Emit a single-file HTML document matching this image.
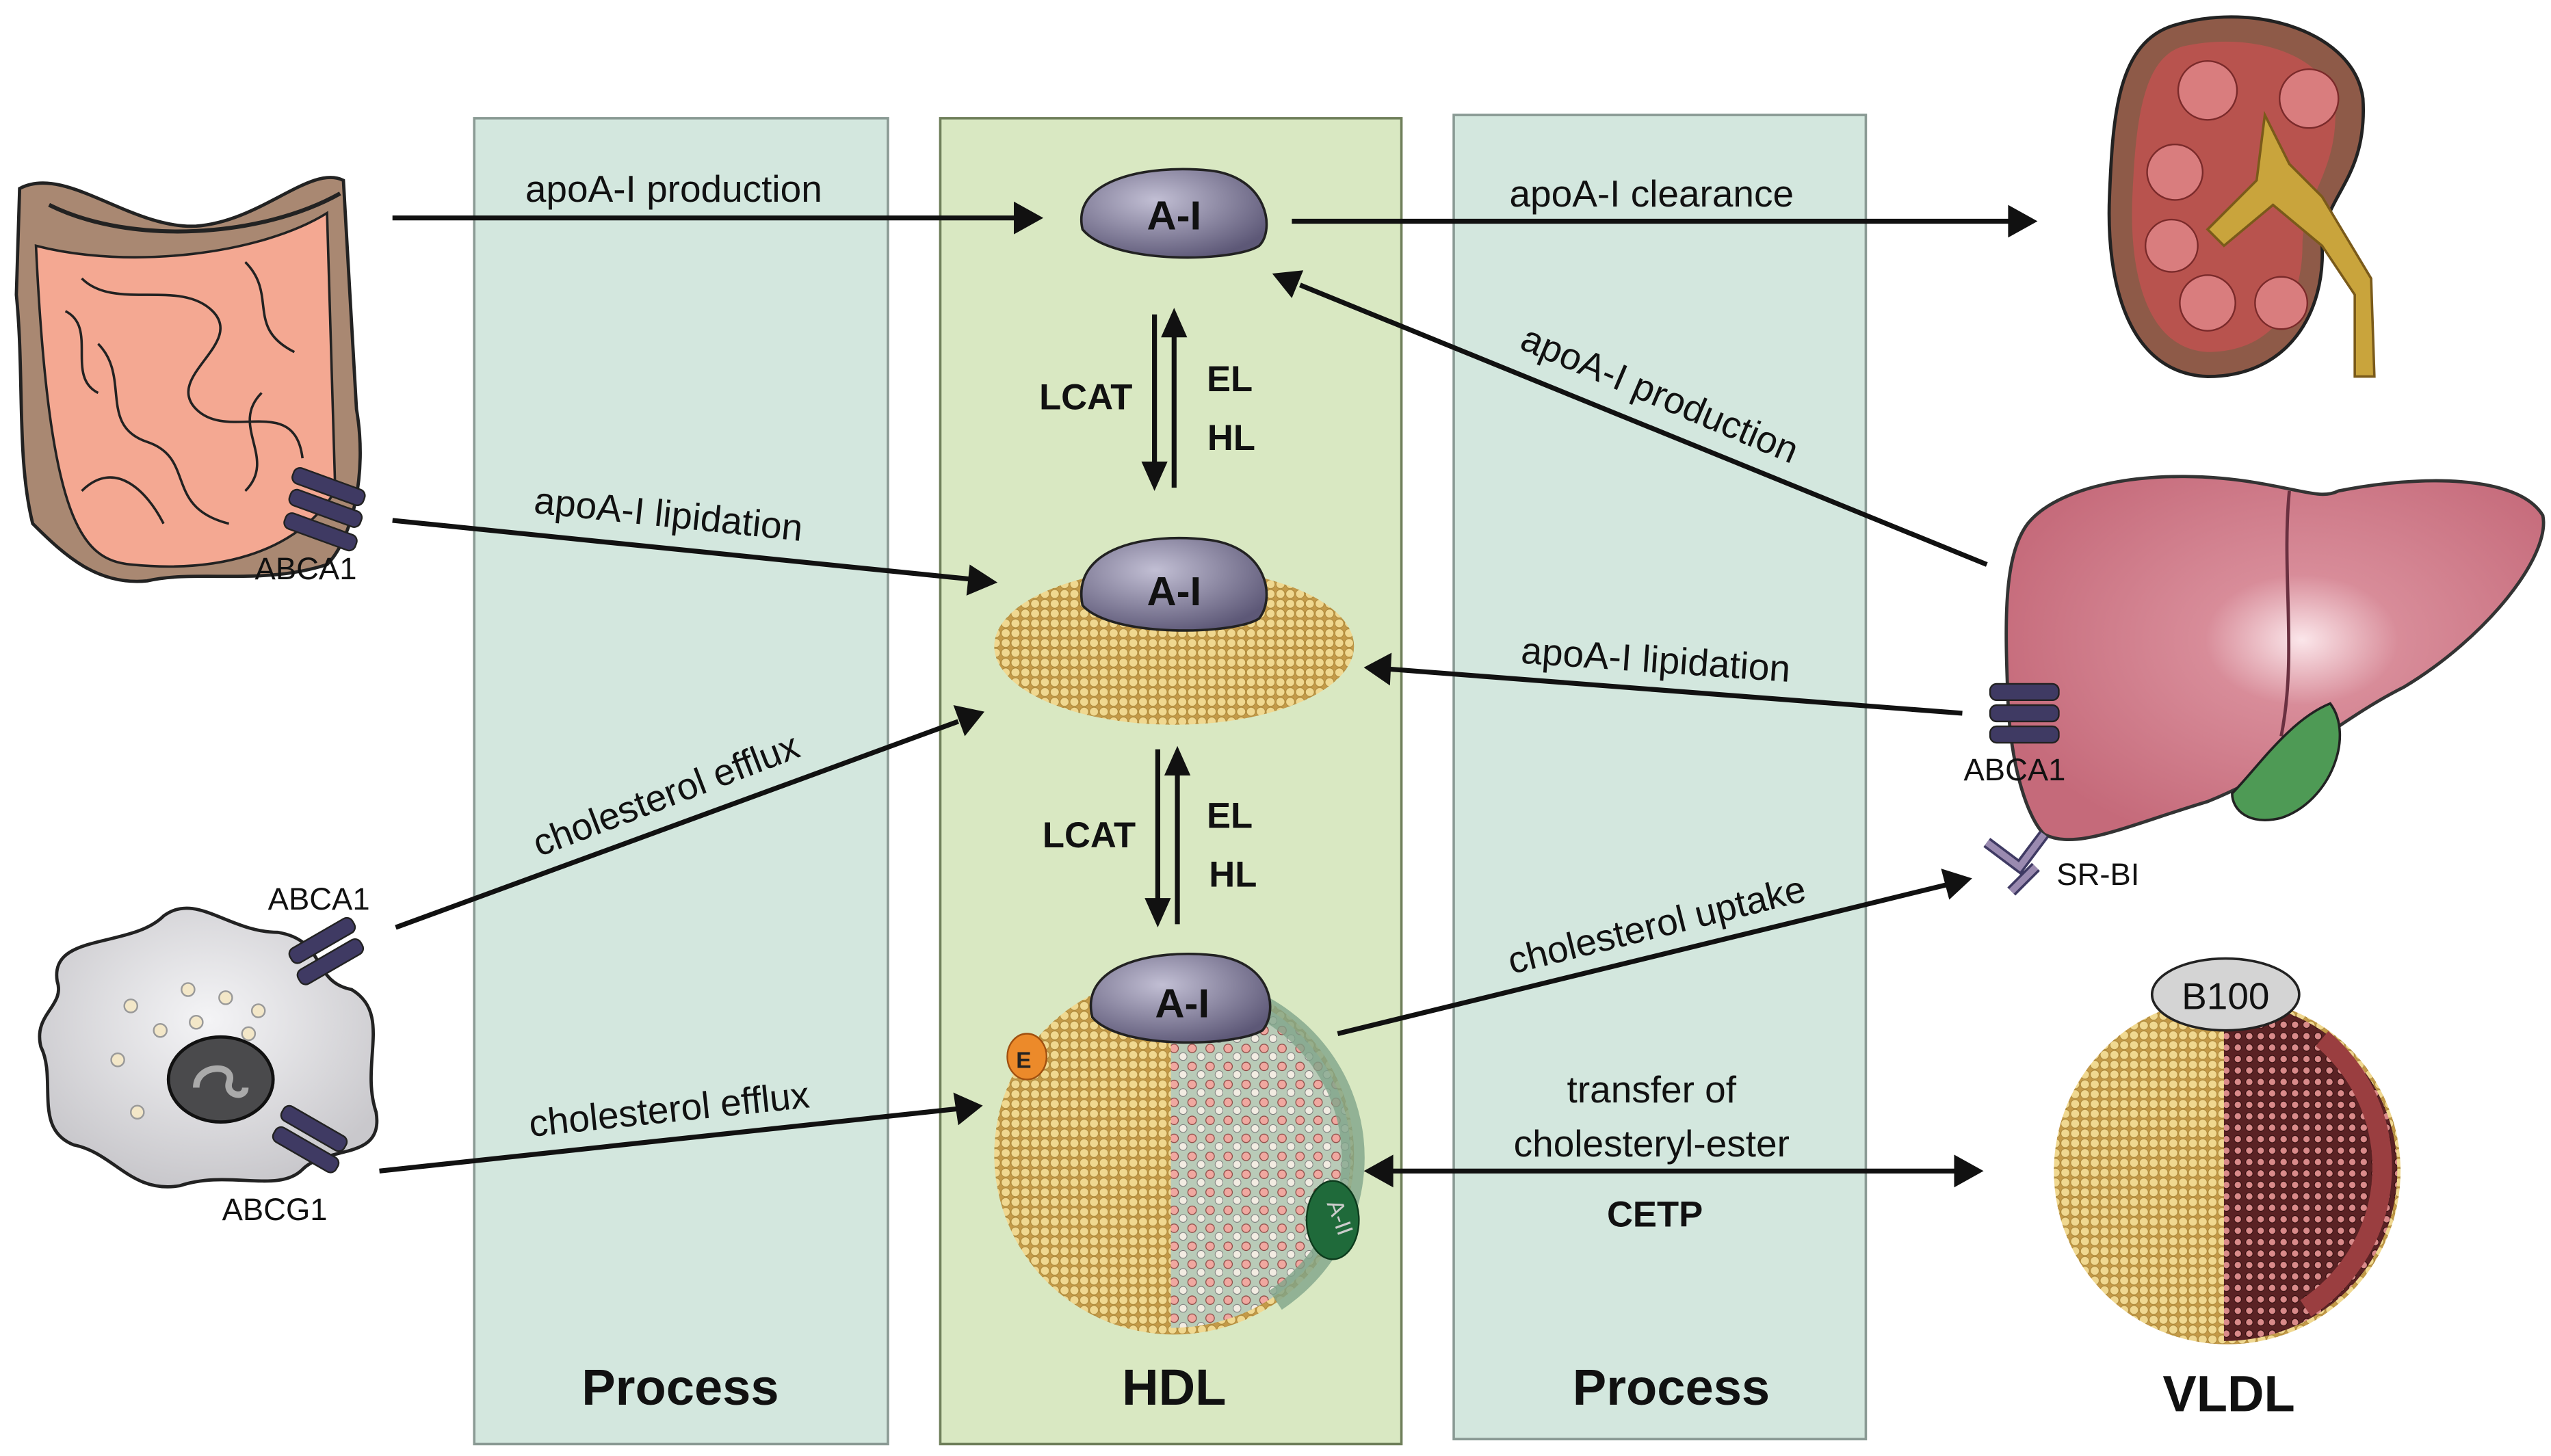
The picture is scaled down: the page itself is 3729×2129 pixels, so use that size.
<!DOCTYPE html>
<html><head><meta charset="utf-8"><style>html,body{margin:0;padding:0;background:#fff}svg{display:block}</style></head>
<body>
<svg width="3729" height="2129" viewBox="0 0 1560 890" xmlns="http://www.w3.org/2000/svg" font-family="Liberation Sans, sans-serif">
<defs>
<pattern id="dots" width="6" height="6" patternUnits="userSpaceOnUse">
<rect width="6" height="6" fill="#c49a48"/>
<circle cx="3" cy="3" r="2.7" fill="#f0d890" stroke="#a88436" stroke-width="0.4"/>
</pattern>
<pattern id="pinkdots" width="11" height="11" patternUnits="userSpaceOnUse">
<rect width="11" height="11" fill="#b9cbb8"/>
<circle cx="3" cy="3" r="2.6" fill="#f0a8a0" stroke="#8a4440" stroke-width="0.5"/>
<circle cx="8.5" cy="8" r="2.4" fill="#f2ece2" stroke="#777" stroke-width="0.4"/>
</pattern>
<pattern id="vdots" width="7" height="7" patternUnits="userSpaceOnUse">
<rect width="7" height="7" fill="#5a2224"/>
<circle cx="3.5" cy="3.5" r="2.2" fill="#d98a8a" stroke="#2a0808" stroke-width="0.4"/>
</pattern>
<radialGradient id="ai" cx="0.4" cy="0.35" r="0.7"><stop offset="0" stop-color="#c2bfd4"/><stop offset="1" stop-color="#5d5877"/></radialGradient>
<radialGradient id="liv" cx="0.55" cy="0.45" r="0.6"><stop offset="0" stop-color="#fbe6ea"/><stop offset="0.3" stop-color="#d88c99"/><stop offset="1" stop-color="#c56a7a"/></radialGradient>
<radialGradient id="mac" cx="0.5" cy="0.4" r="0.6"><stop offset="0" stop-color="#f4f4f6"/><stop offset="1" stop-color="#c9c8cc"/></radialGradient>
</defs>

<rect x="290" y="72" width="253" height="811" fill="#d3e7de" stroke="#8a9a94" stroke-width="1.5"/>
<rect x="575" y="72" width="282" height="811" fill="#d9e8c2" stroke="#6f7f5a" stroke-width="1.5"/>
<rect x="889" y="70" width="252" height="810" fill="#d3e7de" stroke="#8a9a94" stroke-width="1.5"/>

<g font-weight="bold" font-size="31" text-anchor="middle" fill="#111">
<text x="416" y="859">Process</text>
<text x="718" y="859">HDL</text>
<text x="1022" y="859">Process</text>
<text x="1363" y="863">VLDL</text>
</g>

<g stroke="#111" stroke-width="3" fill="#111">
<line x1="240" y1="133" x2="622" y2="133"/><path d="M638,133 L620,123 L620,143Z" stroke="none"/>
<line x1="790" y1="135" x2="1230" y2="135"/><path d="M1246,135 L1228,125 L1228,145Z" stroke="none"/>
<line x1="1215" y1="345" x2="795" y2="174"/><path d="M778,167 L797,165 L790,182Z" stroke="none"/>
<line x1="240" y1="318" x2="594" y2="354"/><path d="M610,356 L593,345 L591,364Z" stroke="none"/>
<line x1="1200" y1="436" x2="850" y2="409"/><path d="M834,408 L851,399 L850,419Z" stroke="none"/>
<line x1="242" y1="567" x2="586" y2="441"/><path d="M602,435 L583,431 L590,450Z" stroke="none"/>
<line x1="232" y1="716" x2="585" y2="678"/><path d="M601,676 L583,668 L586,688Z" stroke="none"/>
<line x1="818" y1="632" x2="1190" y2="541"/><path d="M1206,537 L1187,531 L1192,550Z" stroke="none"/>
<line x1="850" y1="716" x2="1197" y2="716"/><path d="M834,716 L852,706 L852,726Z" stroke="none"/><path d="M1213,716 L1195,706 L1195,726Z" stroke="none"/>
<line x1="706" y1="192" x2="706" y2="284"/><path d="M706,300 L698,282 L714,282Z" stroke="none"/>
<line x1="718" y1="298" x2="718" y2="204"/><path d="M718,188 L710,206 L726,206Z" stroke="none"/>
<line x1="708" y1="458" x2="708" y2="551"/><path d="M708,567 L700,549 L716,549Z" stroke="none"/>
<line x1="720" y1="565" x2="720" y2="472"/><path d="M720,456 L712,474 L728,474Z" stroke="none"/>
</g>

<g font-size="23" fill="#111" text-anchor="middle">
<text x="412" y="123">apoA-I production</text>
<text x="1010" y="126">apoA-I clearance</text>
<text transform="translate(1012,248) rotate(23)">apoA-I production</text>
<text transform="translate(408,322) rotate(6)">apoA-I lipidation</text>
<text transform="translate(1012,411) rotate(4)">apoA-I lipidation</text>
<text transform="translate(410,493) rotate(-21)">cholesterol efflux</text>
<text transform="translate(410,686) rotate(-6)">cholesterol efflux</text>
<text transform="translate(1015,573) rotate(-14)">cholesterol uptake</text>
<text x="1010" y="674">transfer of</text>
<text x="1010" y="707">cholesteryl-ester</text>
</g>
<g font-size="22" font-weight="bold" fill="#111" text-anchor="middle">
<text x="1012" y="750">CETP</text>
<text x="664" y="250">LCAT</text><text x="752" y="239">EL</text><text x="753" y="275">HL</text>
<text x="666" y="518">LCAT</text><text x="752" y="506">EL</text><text x="754" y="542">HL</text>
</g>

<path d="M662,140 C655,110 700,100 740,104 C775,108 780,140 770,150 C755,160 680,162 662,140Z" fill="url(#ai)" stroke="#222" stroke-width="1.5"/>
<text x="718" y="140" font-size="25" font-weight="bold" text-anchor="middle" fill="#111">A-I</text>

<ellipse cx="718" cy="395" rx="110" ry="48" fill="url(#dots)"/>
<path d="M662,370 C655,335 700,325 740,330 C775,335 780,365 770,378 C755,388 680,390 662,370Z" fill="url(#ai)" stroke="#222" stroke-width="1.5"/>
<text x="718" y="370" font-size="25" font-weight="bold" text-anchor="middle" fill="#111">A-I</text>

<circle cx="718" cy="706" r="110" fill="url(#dots)"/>
<path d="M716,600 A110,106 0 0 1 716,812 Z" fill="url(#pinkdots)"/>
<path d="M760,610 A110,106 0 0 1 780,795" fill="none" stroke="#7fa48a" stroke-width="14" opacity="0.8"/>
<path d="M668,622 C660,590 705,580 742,584 C778,588 782,618 772,630 C755,640 685,642 668,622Z" fill="url(#ai)" stroke="#222" stroke-width="1.5"/>
<text x="723" y="622" font-size="25" font-weight="bold" text-anchor="middle" fill="#111">A-I</text>
<ellipse cx="628" cy="646" rx="12" ry="14" fill="#ec8a2a" stroke="#a05010"/>
<text x="626" y="653" font-size="14" font-weight="bold" text-anchor="middle" fill="#222">E</text>
<ellipse cx="815" cy="746" rx="16" ry="24" fill="#1f6a3a" stroke="#0c3a1c"/>
<text transform="translate(815,746) rotate(70)" font-size="14" text-anchor="middle" fill="#ccc">A-II</text>

<circle cx="1362" cy="716" r="106" fill="url(#dots)"/>
<path d="M1360,612 A106,104 0 0 1 1360,820 Z" fill="url(#vdots)"/>
<path d="M1420,635 A106,104 0 0 1 1410,800" fill="none" stroke="#9a3e40" stroke-width="12"/>
<ellipse cx="1361" cy="608" rx="45" ry="22" fill="#d4d4d4" stroke="#222" stroke-width="1.5"/>
<text x="1361" y="617" font-size="23" text-anchor="middle" fill="#111">B100</text>

<!-- intestine -->
<path d="M12,115 C40,100 80,140 120,138 C160,135 190,100 210,110 L218,250 C225,290 215,330 200,345 C160,358 120,348 90,355 C60,358 40,340 20,320 C10,280 15,230 10,180 Z" fill="#a98872" stroke="#222" stroke-width="2"/>
<path d="M22,150 C80,165 160,155 200,130 L205,300 C180,340 130,350 80,345 C50,342 30,320 22,150Z" fill="#f4a892" stroke="#222" stroke-width="1.5"/>
<g fill="none" stroke="#222" stroke-width="1.5">
<path d="M50,170 C70,190 110,170 130,190 C150,210 100,230 120,250 C140,270 180,240 185,280"/>
<path d="M60,210 C80,230 60,260 90,270 C120,280 100,310 140,320"/>
<path d="M150,160 C170,180 150,200 180,215"/><path d="M50,300 C70,280 90,300 100,320"/>
<path d="M40,190 C60,200 40,230 60,240"/><path d="M160,240 C140,260 170,280 150,300"/>
<path d="M30,125 C80,150 160,145 208,118" stroke-width="2.5"/>
</g>
<g fill="#3f3a63" stroke="#222"><rect x="178" y="292" width="46" height="10" rx="4" transform="rotate(20 200 297)"/><rect x="176" y="306" width="46" height="10" rx="4" transform="rotate(20 200 311)"/><rect x="173" y="320" width="46" height="10" rx="4" transform="rotate(20 196 325)"/></g>
<text x="187" y="354" font-size="19" text-anchor="middle" fill="#111">ABCA1</text>

<path d="M35,600 C30,570 80,580 100,560 C120,545 140,570 170,570 C200,575 190,600 215,605 C240,620 220,650 230,680 C235,710 200,700 185,715 C170,730 140,715 110,725 C80,730 70,705 45,700 C20,690 35,660 25,640 C20,620 40,615 35,600Z" fill="url(#mac)" stroke="#222" stroke-width="2"/>
<ellipse cx="135" cy="660" rx="32" ry="26" fill="#4a4a4c" stroke="#111" stroke-width="2"/>
<path d="M120,665 C120,650 145,650 140,662 C138,670 150,672 150,665" fill="none" stroke="#aaa" stroke-width="4"/>
<g fill="#f3e7c8" stroke="#999"><circle cx="80" cy="615" r="4"/><circle cx="115" cy="605" r="4"/><circle cx="138" cy="610" r="4"/><circle cx="158" cy="618" r="4"/><circle cx="98" cy="630" r="4"/><circle cx="120" cy="625" r="4"/><circle cx="152" cy="632" r="4"/><circle cx="72" cy="648" r="4"/><circle cx="84" cy="680" r="4"/></g>
<g fill="#3f3a63" stroke="#222"><rect x="175" y="570" width="44" height="10" rx="4" transform="rotate(-30 197 575)"/><rect x="180" y="583" width="44" height="10" rx="4" transform="rotate(-30 202 588)"/></g>
<g fill="#3f3a63" stroke="#222"><rect x="170" y="685" width="44" height="10" rx="4" transform="rotate(30 192 690)"/><rect x="165" y="698" width="44" height="10" rx="4" transform="rotate(30 187 703)"/></g>
<text x="195" y="556" font-size="19" text-anchor="middle" fill="#111">ABCA1</text>
<text x="168" y="746" font-size="19" text-anchor="middle" fill="#111">ABCG1</text>

<!-- kidney -->
<path d="M1330,15 C1380,0 1440,20 1445,60 C1448,110 1420,120 1420,150 C1422,190 1400,230 1350,230 C1300,228 1288,170 1290,120 C1292,70 1295,25 1330,15Z" fill="#8e5a48" stroke="#222" stroke-width="2"/>
<path d="M1335,28 C1380,18 1425,35 1428,65 C1430,105 1408,120 1408,150 C1408,185 1390,215 1350,215 C1312,213 1302,165 1304,120 C1306,75 1310,35 1335,28Z" fill="#b8534e"/>
<g fill="#d97d7e" stroke="#7a2a2a"><circle cx="1350" cy="55" r="18"/><circle cx="1412" cy="60" r="18"/><circle cx="1330" cy="105" r="17"/><circle cx="1328" cy="150" r="16"/><circle cx="1350" cy="185" r="17"/><circle cx="1395" cy="185" r="16"/></g>
<path d="M1385,70 L1380,110 L1350,140 L1360,150 L1390,125 L1420,150 L1440,180 L1440,230 L1452,230 L1450,170 L1420,120 L1400,100 Z" fill="#c9a43c" stroke="#7a5a1a" stroke-width="1.5"/>

<!-- liver -->
<path d="M1240,320 C1260,295 1320,285 1380,295 C1410,300 1420,305 1430,300 C1480,290 1540,290 1555,315 C1560,340 1520,390 1470,420 C1430,440 1400,470 1350,490 C1300,505 1270,520 1250,510 C1240,500 1230,470 1228,430 C1226,380 1225,340 1240,320Z" fill="url(#liv)" stroke="#333" stroke-width="2"/>
<path d="M1400,300 C1395,350 1405,400 1395,450" fill="none" stroke="#6a3040" stroke-width="2"/>
<path d="M1365,485 C1380,470 1400,440 1425,430 C1440,450 1425,490 1395,500 C1375,505 1365,495 1365,485Z" fill="#4e9a55" stroke="#222" stroke-width="1.5"/>
<g fill="#3f3a63" stroke="#222"><rect x="1217" y="418" width="42" height="10" rx="4"/><rect x="1217" y="431" width="42" height="10" rx="4"/><rect x="1217" y="444" width="42" height="10" rx="4"/></g>
<text x="1232" y="477" font-size="19" text-anchor="middle" fill="#111">ABCA1</text>
<path d="M1215,515 L1235,530 L1250,510 M1230,545 L1245,530" fill="none" stroke="#3f3a63" stroke-width="7"/>
<path d="M1215,515 L1235,530 L1250,510 M1230,545 L1245,530" fill="none" stroke="#9a8ab0" stroke-width="4"/>
<text x="1283" y="541" font-size="19" text-anchor="middle" fill="#111">SR-BI</text>
</svg>
</body></html>
